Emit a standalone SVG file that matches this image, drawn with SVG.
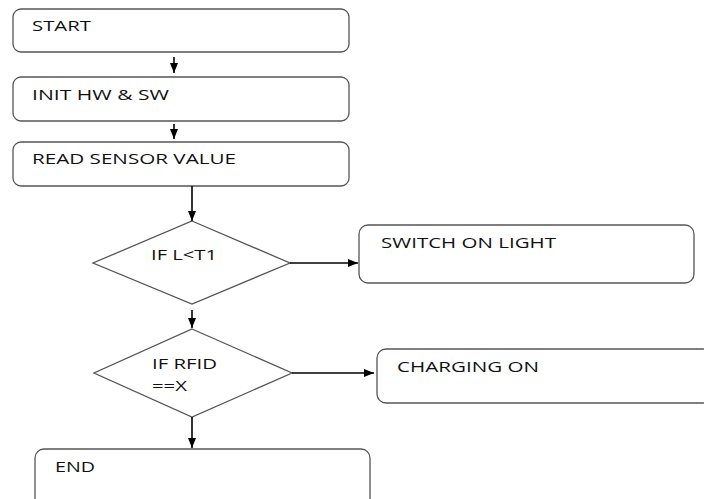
<svg xmlns="http://www.w3.org/2000/svg" width="704" height="499" viewBox="0 0 704 499">
<defs>
<marker id="ah" markerWidth="10" markerHeight="8" refX="10" refY="4" orient="auto" markerUnits="userSpaceOnUse">
<path d="M0,0 L10,4 L0,8 Z" fill="#000"/>
</marker>
<style>
.box{fill:#fff;stroke:#555;stroke-width:1.3}
.t{font-family:"Open Sans","Noto Sans",sans-serif;font-size:15px;fill:#111}
.c{stroke:#000;stroke-width:1.6;fill:none;marker-end:url(#ah)}
</style>
</defs>
<rect width="704" height="499" fill="#fff"/>
<g id="start"><rect class="box" x="13" y="9" width="336" height="43" rx="8"/><text class="t" x="32" y="31" textLength="59" lengthAdjust="spacingAndGlyphs">START</text></g>
<g id="init"><rect class="box" x="13" y="77" width="336" height="44" rx="8"/><text class="t" x="32" y="100" textLength="137" lengthAdjust="spacingAndGlyphs">INIT HW &amp; SW</text></g>
<g id="read"><rect class="box" x="13" y="142" width="336" height="44" rx="8"/><text class="t" x="32" y="164" textLength="204" lengthAdjust="spacingAndGlyphs">READ SENSOR VALUE</text></g>
<g id="if1"><polygon class="box" points="192,221 290,263 192,304 93,263"/><text class="t" x="151" y="260" textLength="66" lengthAdjust="spacingAndGlyphs">IF L&lt;T1</text></g>
<g id="light"><rect class="box" x="359" y="225" width="335" height="58" rx="9"/><text class="t" x="381" y="248" textLength="175" lengthAdjust="spacingAndGlyphs">SWITCH ON LIGHT</text></g>
<g id="if2"><polygon class="box" points="192,329 292,373 192,417 94,373"/><text class="t" x="152" y="369" textLength="65" lengthAdjust="spacingAndGlyphs">IF RFID</text><text class="t" x="152" y="391" textLength="35" lengthAdjust="spacingAndGlyphs">==X</text></g>
<g id="charge"><rect class="box" x="377" y="349" width="335" height="54" rx="9"/><text class="t" x="397" y="372" textLength="142" lengthAdjust="spacingAndGlyphs">CHARGING ON</text></g>
<g id="end"><rect class="box" x="35" y="449" width="335" height="60" rx="9"/><text class="t" x="55" y="472" textLength="40" lengthAdjust="spacingAndGlyphs">END</text></g>
<g id="connectors">
<line class="c" x1="174" y1="57" x2="174" y2="73"/>
<line class="c" x1="174" y1="124" x2="174" y2="139"/>
<line class="c" x1="192" y1="186" x2="192" y2="221"/>
<line class="c" x1="290" y1="263" x2="358" y2="263"/>
<line class="c" x1="192" y1="310" x2="192" y2="328"/>
<line class="c" x1="292" y1="373" x2="374" y2="373"/>
<line class="c" x1="192" y1="417" x2="192" y2="448"/>
</g>
</svg>
